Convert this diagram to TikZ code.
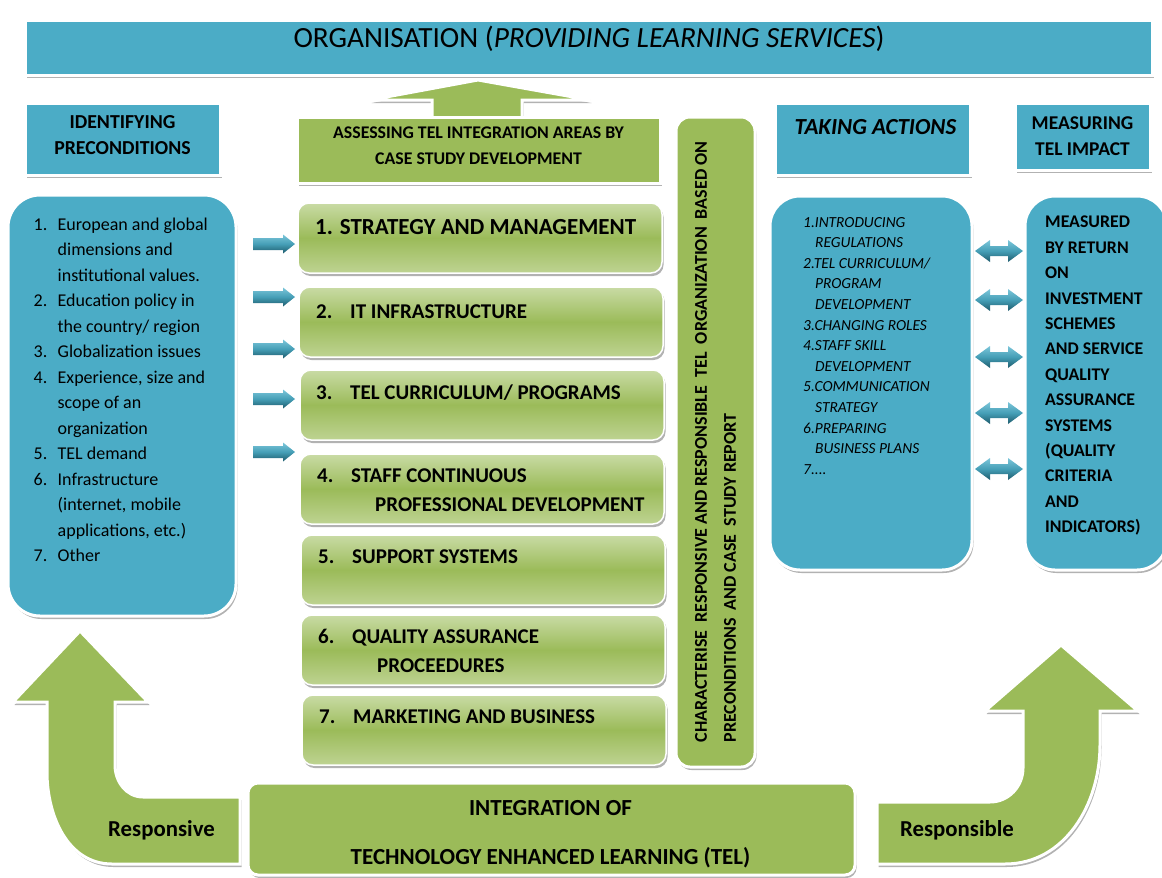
\documentclass[tikz,border=0pt]{standalone}
\usepackage{fontspec}
\setmainfont{Carlito}
\usetikzlibrary{positioning,calc,shadows,backgrounds}

\definecolor{aqua}{HTML}{4BACC6}
\definecolor{aquadeep}{HTML}{1D5A6B}
\definecolor{aqualight}{HTML}{7CC6DA}
\definecolor{olive}{HTML}{9BBB59}
\definecolor{olivelight}{HTML}{C9DBA5}

\newcommand\fs[2]{\fontsize{#1}{#2}\selectfont}
\newcommand\lnum[1]{\makebox[24pt][l]{#1}}
\newcommand\anum[1]{\makebox[34pt][l]{#1}}

\tikzset{
  softshadow/.style={drop shadow={shadow xshift=1.5pt,shadow yshift=-3pt,fill=black,opacity=.3}},
  aquabox/.style={rectangle,fill=aqua,draw=white,line width=3pt,outer sep=0pt,softshadow},
  aquaround/.style={aquabox,rounded corners=32pt},
  greenbox/.style={rectangle,fill=olive,draw=white,line width=3pt,outer sep=0pt,softshadow},
  areabox/.style={rectangle,rounded corners=11pt,draw=white,line width=1.5pt,outer sep=0pt,
    top color=olivelight,bottom color=olivelight!75!olive,middle color=olive,
    minimum width=364pt,minimum height=70pt,softshadow},
  areatext/.style={anchor=base west,inner sep=0pt,font=\bfseries\fs{21}{25}},
  listtext/.style={anchor=north west,inner sep=0pt,align=left},
  bigarrow/.style={fill=olive,draw=white,line width=3pt,softshadow},
  blockarrow/.pic={
    \shade[top color=aqualight,bottom color=aquadeep,middle color=aqua!92!black]
      (0,-6) -- (30,-6) -- (30,-9.5) -- (42,0) -- (30,9.5) -- (30,6) -- (0,6) -- cycle;},
  twinarrow/.pic={
    \shade[top color=aqualight,bottom color=aquadeep,middle color=aqua!92!black]
      (0,0) -- (15,-11) -- (15,-5) -- (33,-5) -- (33,-11) -- (48,0) -- (33,11)
      -- (33,5) -- (15,5) -- (15,11) -- cycle;},
}

\begin{document}
\begin{tikzpicture}[x=1pt,y=-1pt]
  \useasboundingbox (0,0) rectangle (1162,878);

  % Headings
  \node[aquabox, minimum width=1127pt, minimum height=55pt] (org) at (588.5,47.5) {};
  \node[font=\fs{29.3}{34}] (orgtxt) at (589,39) {ORGANISATION (\textit{PROVIDING LEARNING SERVICES})};
  \node[aquabox, minimum width=195pt, minimum height=72pt] (ident) at (122.5,139) {};
  \node[align=center, font=\bfseries\fs{19.8}{26}] (identtxt) at ($(ident)+(0,-4)$) {IDENTIFYING\\PRECONDITIONS};
  \node[greenbox, minimum width=363pt, minimum height=66pt] (assess) at (478.5,150) {};
  \node[align=center, font=\bfseries\fs{17.8}{26}] (assesstxt) at ($(assess)+(0,-4)$) {ASSESSING TEL INTEGRATION AREAS BY\\CASE STUDY DEVELOPMENT};
  \node[aquabox, minimum width=195pt, minimum height=72pt] (take) at (872.5,139) {};
  \node[anchor=base, inner sep=0pt, font=\bfseries\itshape\fs{23}{28}] (taketxt) at ($(take.north)+(3,31)$) {TAKING ACTIONS};
  \node[aquabox, minimum width=135pt, minimum height=67pt, align=center,
        font=\bfseries\fs{19.5}{26}] (meas) at (1082.5,136.5) {MEASURING\\TEL IMPACT};

  % Arrow up to the organisation
  \begin{scope}[on background layer]
    \draw[bigarrow] (432,119) -- (432,100) -- (370,100) -- (478,80) -- (590,100) -- (522,100) -- (522,119);
  \end{scope}

  % Preconditions
  \node[aquaround, minimum width=228pt, minimum height=421pt] (pre) at (122,405.5) {};
  \node[listtext, font=\fs{18}{25.5}] (pretxt) at ($(pre.north west)+(25.5,22.5)$) {%
    \lnum{1.}European and global\\
    \lnum{}dimensions and\\
    \lnum{}institutional values.\\
    \lnum{2.}Education policy in\\
    \lnum{}the country/ region\\
    \lnum{3.}Globalization issues\\
    \lnum{4.}Experience, size and\\
    \lnum{}scope of an\\
    \lnum{}organization\\
    \lnum{5.}TEL demand\\
    \lnum{6.}Infrastructure\\
    \lnum{}(internet, mobile\\
    \lnum{}applications, etc.)\\
    \lnum{7.}Other};

  \foreach \y in {244,297,349,399,452}
    \pic at (253,\y) {blockarrow};

  % TEL integration areas
  \node[areabox] (s1) at (480,238) {};
  \node[areabox, below=14pt of s1, xshift=1pt] (s2) {};
  \node[areabox, below=13pt of s2, xshift=1pt] (s3) {};
  \node[areabox, below=14pt of s3] (s4) {};
  \node[areabox, below=11pt of s4, xshift=1pt] (s5) {};
  \node[areabox, below=10pt of s5] (s6) {};
  \node[areabox, below=10pt of s6, xshift=1pt] (s7) {};

  \node[areatext, font=\bfseries\fs{23}{28}] (a1) at ($(s1.north west)+(17,31)$) {1. STRATEGY AND MANAGEMENT};
  \node[areatext] (a2) at ($(s2.north west)+(17,31)$) {\anum{2.}IT INFRASTRUCTURE};
  \node[areatext] (a3) at ($(s3.north west)+(16,29)$) {\anum{3.}TEL CURRICULUM/ PROGRAMS};
  \node[areatext] (a4) at ($(s4.north west)+(17,28)$) {\anum{4.}STAFF CONTINUOUS};
  \node[areatext] (a4b) at ($(a4.base west)+(58,29)$) {PROFESSIONAL DEVELOPMENT};
  \node[areatext] (a5) at ($(s5.north west)+(17,28)$) {\anum{5.}SUPPORT SYSTEMS};
  \node[areatext] (a6) at ($(s6.north west)+(17,28)$) {\anum{6.}QUALITY ASSURANCE};
  \node[areatext] (a6b) at ($(a6.base west)+(59,29)$) {PROCEEDURES};
  \node[areatext] (a7) at ($(s7.north west)+(17,28)$) {\anum{7.}MARKETING AND BUSINESS};

  % Characterise column
  \node[greenbox, rounded corners=14pt, rotate=90, minimum width=650pt, minimum height=79pt,
        align=left, font=\bfseries\fs{18}{29}] (charac) at (715.5,442)
        {CHARACTERISE~~RESPONSIVE AND RESPONSIBLE~~TEL~~ORGANIZATION~~BASED ON\\PRECONDITIONS~~AND CASE~~STUDY REPORT};

  % Actions and impact
  \node[aquaround, rounded corners=30pt, minimum width=202pt, minimum height=374pt] (act) at (871,383) {};
  \node[listtext, font=\itshape\fs{15.4}{20.6}] (acttxt) at ($(act.north west)+(33,21)$) {%
    1.INTRODUCING\\
    \hspace*{12pt}REGULATIONS\\
    2.TEL CURRICULUM/\\
    \hspace*{12pt}PROGRAM\\
    \hspace*{12pt}DEVELOPMENT\\
    3.CHANGING ROLES\\
    4.STAFF SKILL\\
    \hspace*{12pt}DEVELOPMENT\\
    5.COMMUNICATION\\
    \hspace*{12pt}STRATEGY\\
    6.PREPARING\\
    \hspace*{12pt}BUSINESS PLANS\\
    7....};
  \node[aquaround, rounded corners=30pt, minimum width=142pt, minimum height=374pt] (imp) at (1096,383) {};
  \node[listtext, font=\bfseries\fs{17.8}{25.4}] (imptxt) at ($(imp.north west)+(20,20)$) {%
    MEASURED\\BY RETURN\\ON\\INVESTMENT\\SCHEMES\\AND SERVICE\\QUALITY\\ASSURANCE\\SYSTEMS\\(QUALITY\\CRITERIA\\AND\\INDICATORS)};

  \foreach \y in {251,300,357,413,469}
    \pic at (975,\y) {twinarrow};

  % Integration of TEL with the two bent arrows
  \draw[bigarrow] (240,797) -- (143,797) to[out=180,in=-90] (115,765) -- (115,702) -- (148,702)
    -- (80,631) -- (13,702) -- (47,702) -- (47,772) to[out=-90,in=180] (112,864) -- (240,864) -- cycle;
  \draw[bigarrow] (877,802) -- (990,802) to[out=0,in=-90] (1023,768) -- (1023,711) -- (985,711)
    -- (1061,645) -- (1138,711) -- (1100,711) -- (1100,745) to[out=-90,in=0] (1005,864) -- (877,864) -- cycle;
  \node[font=\bfseries\fs{22.8}{26}] (resp1) at (161.5,830) {Responsive};
  \node[font=\bfseries\fs{22.8}{26}] (resp2) at (957,830) {Responsible};
  \node[greenbox, rounded corners=10pt, minimum width=607pt, minimum height=92pt] (tel) at (551.5,829) {};
  \node[align=center, font=\bfseries\fs{23}{49}] (teltxt) at ($(tel)+(-1,5)$) {INTEGRATION OF\\TECHNOLOGY ENHANCED LEARNING (TEL)};
\end{tikzpicture}
\end{document}
